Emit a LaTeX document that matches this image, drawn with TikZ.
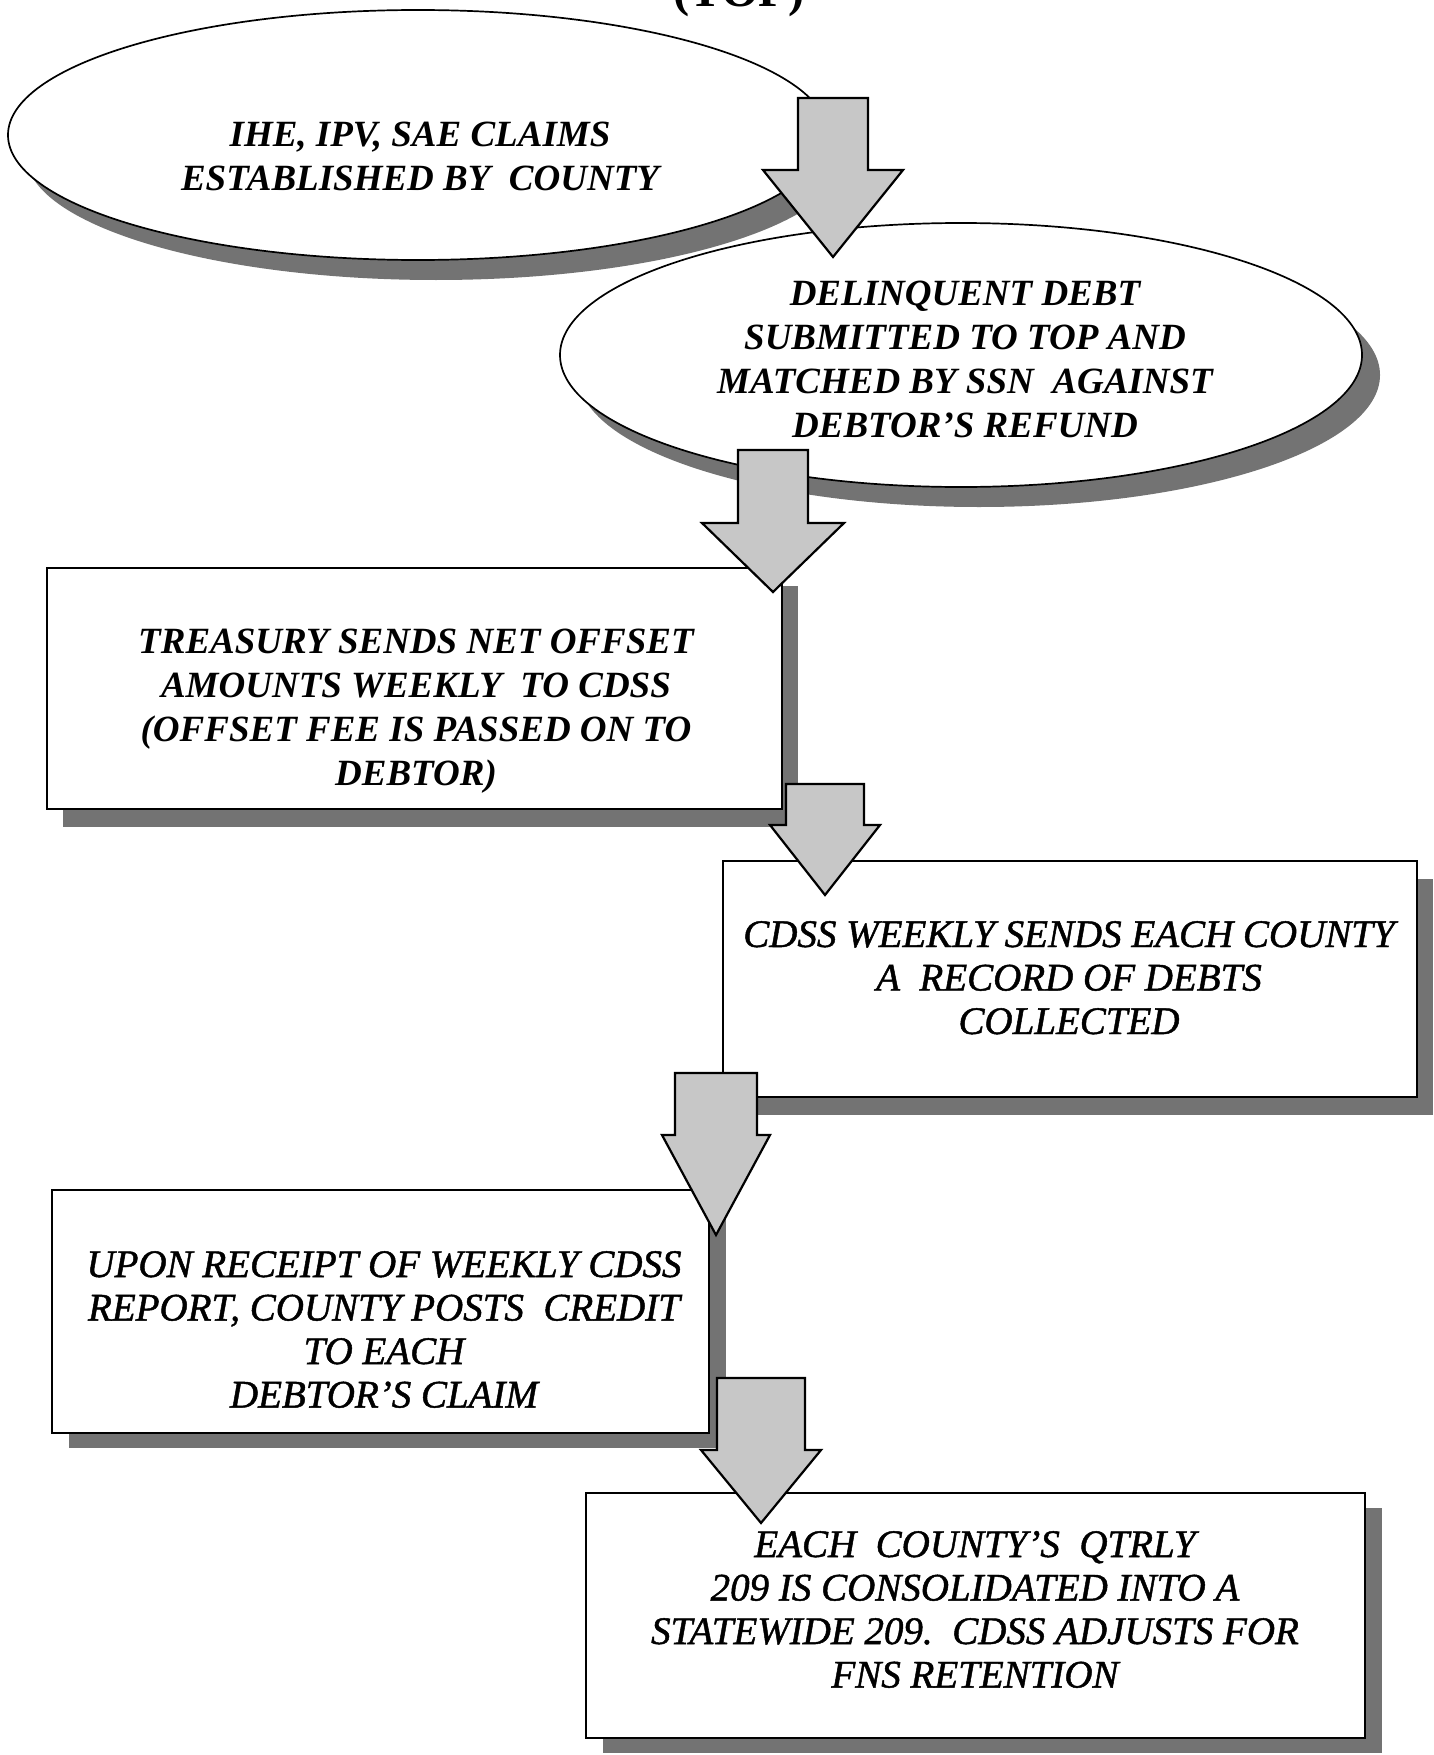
\documentclass[tikz,border=0pt]{standalone}
\usepackage{fontspec}
\setmainfont{Liberation Serif}
\newfontfamily\medfont{Liberation Serif}[FakeBold=1.2, Ligatures=TeX]
\usetikzlibrary{shapes.geometric,shadows}
\newcommand\blockarr[6]{% cx, top, head y, tip y, shaft half, head half
  \filldraw[arrowst] (#1-#5,#2) -- (#1+#5,#2) -- (#1+#5,#3) -- (#1+#6,#3)
    -- (#1,#4) -- (#1-#6,#3) -- (#1-#5,#3) -- cycle;}
\begin{document}
\begin{tikzpicture}[x=1pt,y=-1pt,
  ellnode/.style={ellipse, draw=black, line width=1.7pt, fill=white, inner sep=0pt},
  boxnode/.style={rectangle, draw=black, line width=1.8pt, fill=white, inner sep=0pt},
  shadA/.style={drop shadow={shadow xshift=18pt, shadow yshift=-20pt, fill=black!55, opacity=1}},
  shadB/.style={drop shadow={shadow xshift=16pt, shadow yshift=-18pt, fill=black!55, opacity=1}},
  shadC/.style={drop shadow={shadow xshift=17pt, shadow yshift=-15pt, fill=black!55, opacity=1}},
  arrowst/.style={draw=black, line width=2.2pt, fill=black!22, line join=miter},
  txtA/.style={anchor=base, inner sep=0pt, font=\fontsize{37}{44}\selectfont\bfseries\itshape},
  txtB/.style={anchor=base, inner sep=0pt, font=\fontsize{39}{43.5}\selectfont\medfont\itshape},
  titlest/.style={anchor=base, inner sep=0pt, font=\fontsize{48.5}{50}\selectfont\bfseries}]
\useasboundingbox[fill=white] (0,0) rectangle (1433,1755);

\node[titlest] (title) at (739,7) {(TOP)};

% ellipses
\node[ellnode, minimum width=820pt, minimum height=250pt, shadA] (e1) at (418,135) {};
\node[txtA] (t1) at (420,147) {\begin{tabular}[t]{@{}c@{}}IHE, IPV, SAE CLAIMS\\ ESTABLISHED BY\ \ COUNTY\end{tabular}};

\node[ellnode, minimum width=802pt, minimum height=264pt, shadA] (e2) at (961,355) {};
\node[txtA] (t2) at (965,305) {\begin{tabular}[t]{@{}c@{}}DELINQUENT DEBT\\ SUBMITTED TO TOP AND\\ MATCHED BY SSN\ \ AGAINST\\ DEBTOR'S REFUND\end{tabular}};

% boxes
\node[boxnode, minimum width=735pt, minimum height=241pt, shadB] (b1) at (414.5,688.5) {};
\node[txtA] (t3) at (416,653) {\begin{tabular}[t]{@{}c@{}}TREASURY SENDS NET OFFSET\\ AMOUNTS WEEKLY\ \ TO CDSS\\ (OFFSET FEE IS PASSED ON TO\\ DEBTOR)\end{tabular}};

\node[boxnode, minimum width=694pt, minimum height=236pt, shadB] (b2) at (1070,979) {};
\node[txtB] (t4) at (1069,947) {\begin{tabular}[t]{@{}c@{}}CDSS WEEKLY SENDS EACH COUNTY\\ A\ \ RECORD OF DEBTS\\ COLLECTED\end{tabular}};

\node[boxnode, minimum width=657pt, minimum height=243pt, shadC] (b3) at (380.5,1311.5) {};
\node[txtB] (t5) at (384,1277) {\begin{tabular}[t]{@{}c@{}}UPON RECEIPT OF WEEKLY CDSS\\ REPORT, COUNTY POSTS\ \ CREDIT\\ TO EACH\\ DEBTOR'S CLAIM\end{tabular}};

\node[boxnode, minimum width=779pt, minimum height=245pt, shadC] (b4) at (975.5,1615.5) {};
\node[txtB] (t6) at (975,1557) {\begin{tabular}[t]{@{}c@{}}EACH\ \ COUNTY'S\ \ QTRLY\\ 209 IS CONSOLIDATED INTO A\\ STATEWIDE 209.\ \ CDSS ADJUSTS FOR\\ FNS RETENTION\end{tabular}};

% block arrows
\blockarr{833}{98}{170}{257}{35}{70}
\blockarr{773}{450}{523}{592}{35}{71}
\blockarr{825}{784}{825}{895}{39}{55}
\blockarr{716}{1073}{1135}{1235}{41}{54}
\blockarr{761}{1378}{1450}{1523}{44}{60}
\end{tikzpicture}
\end{document}
